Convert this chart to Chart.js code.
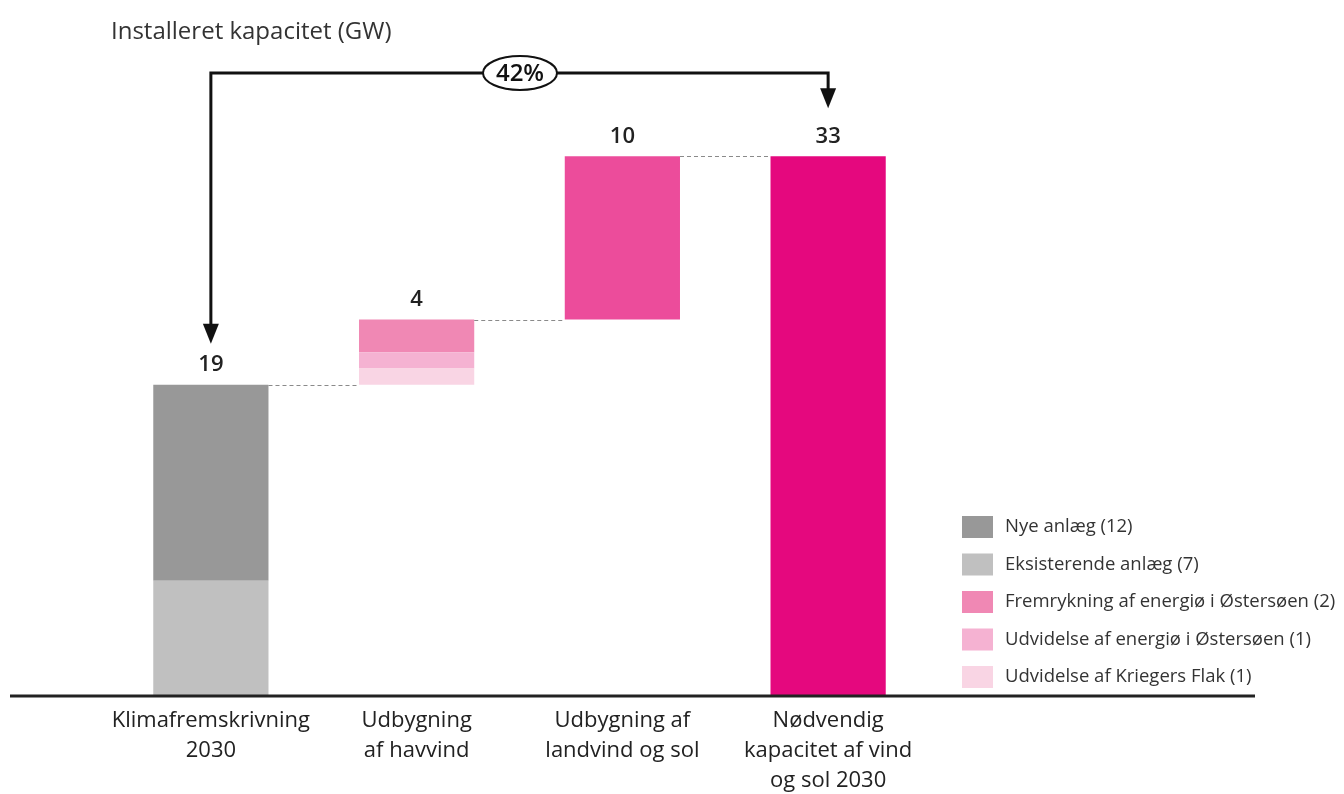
<!DOCTYPE html>
<html>
<head>
<meta charset="utf-8">
<script src="https://cdn.jsdelivr.net/npm/chart.js@4.4.1/dist/chart.umd.min.js"></script>
<style>
  html, body { margin: 0; padding: 0; background: #fff; }
  #wrap { width: 1344px; height: 794px; }
</style>
</head>
<body>
<div id="wrap"><canvas id="chart" width="1344" height="794"></canvas></div>
<script>
// --- Data ---
const categories = [
    ['Klimafremskrivning', '2030'],
    ['Udbygning', 'af havvind'],
    ['Udbygning af', 'landvind og sol'],
    ['Nødvendig', 'kapacitet af vind', 'og sol 2030']
];
const eksisterende = [7, null, null, null];
const nyeAnlaeg = [12, null, null, null];
const kriegersFlak = [null, 1, null, null];
const udvidelseEnergioe = [null, 1, null, null];
const fremrykningEnergioe = [null, 2, null, null];
const landvindSol = [null, null, 10, null];
const noedvendig = [null, null, null, 33];
const barLabels = ['19', '4', '10', '33'];
const yTicks = [0, 40];
const growthLabel = '42%';
const titleText = 'Installeret kapacitet (GW)';

// --- Waterfall base (invisible), from the segments above ---
const segments = [eksisterende, nyeAnlaeg, kriegersFlak, udvidelseEnergioe, fremrykningEnergioe, landvindSol, noedvendig];
const stepTotals = categories.map((_, i) => segments.reduce((s, arr) => s + (arr[i] || 0), 0));
const base = [0];
for (let i = 1; i < categories.length; i++) {
    base.push(i === categories.length - 1 ? 0 : base[i - 1] + stepTotals[i - 1]);
}

const legendItems = [
    { text: 'Nye anlæg (12)', color: '#989898' },
    { text: 'Eksisterende anlæg (7)', color: '#c0c0c0' },
    { text: 'Fremrykning af energiø i Østersøen (2)', color: '#f088b4' },
    { text: 'Udvidelse af energiø i Østersøen (1)', color: '#f5b2d2' },
    { text: 'Udvidelse af Kriegers Flak (1)', color: '#f9d5e4' }
];

const FONT = "'Open Sans', sans-serif";

// --- Annotations drawn on top of the bars ---
const waterfallExtras = {
    id: 'waterfallExtras',
    afterDatasetsDraw(chart) {
        const { ctx } = chart;
        const x = chart.scales.x;
        const y = chart.scales.y;
        const meta = chart.getDatasetMeta(0);
        const halfW = meta.data[0].width / 2;
        const topVal = i => base[i] + stepTotals[i];
        const y0 = y.getPixelForValue(0);

        ctx.save();

        // baseline
        ctx.strokeStyle = '#222';
        ctx.lineWidth = 3;
        ctx.beginPath();
        ctx.moveTo(10, y0 + 1);
        ctx.lineTo(1255, y0 + 1);
        ctx.stroke();

        // dashed connectors
        ctx.strokeStyle = '#8a8a8a';
        ctx.lineWidth = 1.2;
        ctx.setLineDash([4, 3]);
        for (let i = 0; i < categories.length - 1; i++) {
            const yy = Math.round(y.getPixelForValue(topVal(i))) + 0.5;
            ctx.beginPath();
            ctx.moveTo(x.getPixelForValue(i) + halfW, yy);
            ctx.lineTo(x.getPixelForValue(i + 1) - halfW, yy);
            ctx.stroke();
        }
        ctx.setLineDash([]);

        // value labels
        ctx.fillStyle = '#222';
        ctx.font = "600 22px " + FONT;
        ctx.textAlign = 'center';
        ctx.textBaseline = 'middle';
        barLabels.forEach((lbl, i) => {
            ctx.fillText(lbl, x.getPixelForValue(i), y.getPixelForValue(topVal(i)) - 20);
        });

        // bracket arrow from first to last bar
        const xa = x.getPixelForValue(0);
        const xb = x.getPixelForValue(categories.length - 1);
        const yTop = 73;
        const tipA = y.getPixelForValue(topVal(0)) - 41;
        const tipB = y.getPixelForValue(topVal(categories.length - 1)) - 48;
        ctx.strokeStyle = '#111';
        ctx.fillStyle = '#111';
        ctx.lineWidth = 3;
        ctx.beginPath();
        ctx.moveTo(xa, tipA - 18);
        ctx.lineTo(xa, yTop);
        ctx.lineTo(xb, yTop);
        ctx.lineTo(xb, tipB - 18);
        ctx.stroke();
        [[xa, tipA], [xb, tipB]].forEach(([ax, ay]) => {
            ctx.beginPath();
            ctx.moveTo(ax - 8, ay - 20);
            ctx.lineTo(ax + 8, ay - 20);
            ctx.lineTo(ax, ay);
            ctx.closePath();
            ctx.fill();
        });

        // percentage bubble
        const cx = (xa + xb) / 2 + 0.5;
        ctx.fillStyle = '#fff';
        ctx.lineWidth = 2;
        ctx.beginPath();
        ctx.ellipse(cx, yTop, 37, 17, 0, 0, Math.PI * 2);
        ctx.fill();
        ctx.stroke();
        ctx.fillStyle = '#111';
        ctx.font = "600 24px " + FONT;
        ctx.fillText(growthLabel, cx, yTop + 1);

        // title
        ctx.fillStyle = '#333';
        ctx.font = "24px " + FONT;
        ctx.textAlign = 'left';
        ctx.fillText(titleText, 111, 32);

        // legend
        ctx.font = "18.5px " + FONT;
        legendItems.forEach((item, k) => {
            const ly = 527 + k * 37.5;
            ctx.fillStyle = item.color;
            ctx.fillRect(962, ly - 11, 31, 22);
            ctx.fillStyle = '#333';
            ctx.fillText(item.text, 1005, ly);
        });

        ctx.restore();
    }
};

new Chart(document.getElementById('chart').getContext('2d'), {
    type: 'bar',
    data: {
        labels: categories,
        datasets: [
            { label: 'base', data: base, backgroundColor: 'rgba(0,0,0,0)' },
            { label: 'Eksisterende anlæg', data: eksisterende, backgroundColor: '#c0c0c0' },
            { label: 'Nye anlæg', data: nyeAnlaeg, backgroundColor: '#989898' },
            { label: 'Udvidelse af Kriegers Flak', data: kriegersFlak, backgroundColor: '#f9d5e4' },
            { label: 'Udvidelse af energiø i Østersøen', data: udvidelseEnergioe, backgroundColor: '#f5b2d2' },
            { label: 'Fremrykning af energiø i Østersøen', data: fremrykningEnergioe, backgroundColor: '#f088b4' },
            { label: 'Udbygning af landvind og sol', data: landvindSol, backgroundColor: '#ec4c9b' },
            { label: 'Nødvendig kapacitet', data: noedvendig, backgroundColor: '#e5087e' }
        ]
    },
    options: {
        responsive: false,
        animation: false,
        barPercentage: 1,
        categoryPercentage: 0.56,
        layout: { padding: { left: 108, right: 413, top: 42, bottom: 0 } },
        plugins: {
            legend: { display: false },
            tooltip: { enabled: false }
        },
        scales: {
            x: {
                stacked: true,
                grid: { display: false },
                border: { display: false },
                afterFit: (scale) => { scale.height = 99; },
                ticks: {
                    color: '#222',
                    padding: 3,
                    font: { family: FONT, size: 22, lineHeight: 1.36 },
                    maxRotation: 0
                }
            },
            y: {
                stacked: true,
                display: false,
                min: yTicks[0],
                max: yTicks[1]
            }
        }
    },
    plugins: [waterfallExtras]
});
</script>
</body>
</html>
